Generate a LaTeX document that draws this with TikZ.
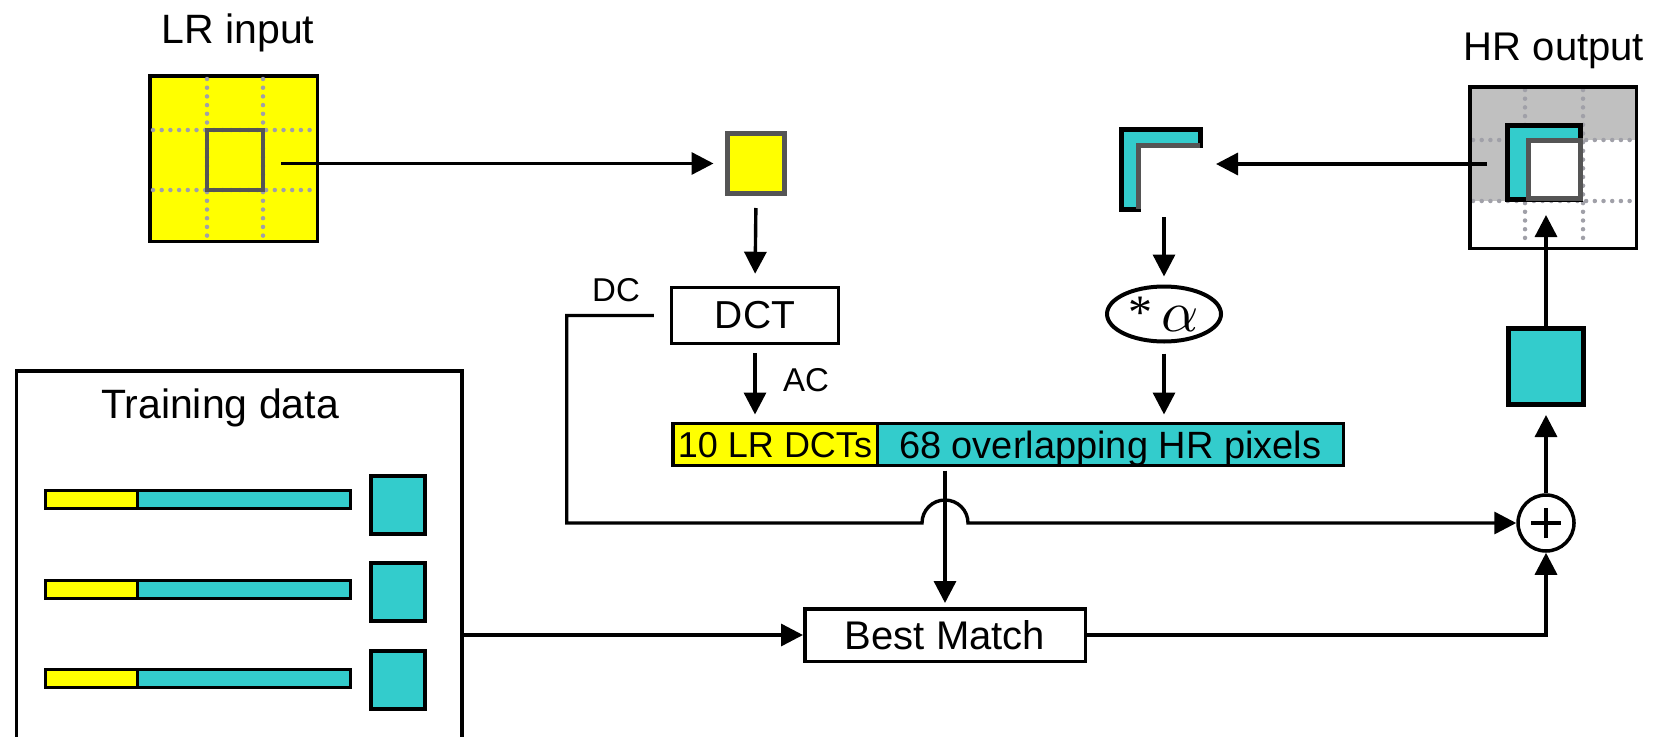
\documentclass[tikz,border=0pt]{standalone}
\usepackage{fontspec}
\setmainfont{Liberation Sans}
\newfontfamily\timesfont{Liberation Serif}
\usepackage{graphicx}
\usepackage{tikz}
\usetikzlibrary{arrows.meta, positioning, calc, shapes.geometric}

\definecolor{lryellow}{RGB}{255,255,0}
\definecolor{hrcyan}{RGB}{51,204,204}
\definecolor{patchgray}{RGB}{85,85,85}
\definecolor{dotgray}{RGB}{160,160,168}
\definecolor{fillgray}{RGB}{192,192,192}

\tikzset{
    fs/.style={font=\fontsize{#1}{#1}\selectfont},
    box/.style={draw=black, line width=3.5pt, fill=white, inner sep=0pt, fs=39},
    cell/.style={draw=black, line width=3.5pt, inner sep=0pt, outer sep=0pt},
    arr/.style={line width=3.4pt, -{Triangle[length=22pt, width=22pt]}},
    gridline/.style={dotgray, line width=4.5pt, dash pattern=on 0pt off 8.7pt, line cap=round},
}

\begin{document}
\begin{tikzpicture}[x=1pt, y=-1pt]
    \useasboundingbox (0,0) rectangle (1661,736);

    % LR input
    \node[fs=41, anchor=base] (lrlabel) at (238,43) {LR input};
    \node[cell, fill=lryellow, minimum width=167.5pt, minimum height=165.5pt] (lrin) at (233.5,158.5) {};
    \foreach \gx in {207,263} \draw[gridline] (\gx,79) -- (\gx,238);
    \foreach \gy in {130,190} \draw[gridline] (153,\gy) -- (318,\gy);
    \node[draw=patchgray, line width=4pt, minimum width=56pt, minimum height=60pt, inner sep=0pt] (lrpatch) at (235,160) {};

    % Patch, DCT and feature vector
    \node[draw=patchgray, line width=5pt, fill=lryellow, minimum width=57pt, minimum height=60pt, inner sep=0pt] (patch) at (756,163.5) {};
    \node[box, minimum width=167pt, minimum height=56pt] (dct) at (755,315.5) {DCT};
    \node[fs=33] (dclabel) at (616,290) {DC};
    \node[fs=33] (aclabel) at (806,380) {AC};
    \node[cell, fill=lryellow, minimum width=204.5pt, minimum height=42pt, text depth=0pt, fs=36] (barlr) at (775,444.5) {10 LR DCTs};
    \node[cell, fill=hrcyan, minimum width=466pt, minimum height=42pt, text depth=0pt, fs=38, anchor=west] (barhr) at (barlr.east) {68 overlapping HR pixels};

    % Overlap region and weight
    \node[inner sep=0pt, outer sep=0pt, minimum width=79pt, minimum height=80pt] (ovl) at (1160.5,169) {};
    \filldraw[fill=hrcyan, line width=5pt] (ovl.south west) |- (ovl.north east) -- ++(0,16) -| ($(ovl.south west)+(17,0)$) -- cycle;
    \draw[patchgray, line width=5pt] ($(ovl.north east)+(0,16)$) -| ($(ovl.south west)+(17,0)$);
    \node[ellipse, draw, line width=4pt, minimum width=114pt, minimum height=55pt, inner sep=0pt] (weight) at (1164,314)
        {\raisebox{3pt}{\timesfont\fontsize{48}{48}\selectfont *}\hspace{9pt}\scalebox{5.8}{$\alpha$}};

    % HR output
    \node[fs=40, anchor=base] (hrlabel) at (1554,60) {HR output};
    \fill[fillgray] (1468,85) rectangle (1638,140);
    \fill[fillgray] (1468,140) rectangle (1525,201);
    \foreach \gx in {1525,1583} \draw[gridline] (\gx,90) -- (\gx,246);
    \foreach \gy in {140,201} \draw[gridline] (1473,\gy) -- (1634,\gy);
    \filldraw[fill=hrcyan, line width=5pt] (1507.5,125.5) rectangle (1580.5,199.5);
    \node[draw=patchgray, fill=white, line width=5pt, minimum width=52pt, minimum height=58pt, inner sep=0pt] (hrpatch) at (1554.5,169.5) {};
    \node[draw, line width=3.5pt, minimum width=166.5pt, minimum height=161.5pt, inner sep=0pt] (hrout) at (1553,167.5) {};
    \node[draw, line width=5pt, fill=hrcyan, minimum width=75pt, minimum height=76pt, inner sep=0pt] (hrsq) at (1546,366.5) {};
    \node[circle, draw, line width=3.5pt, minimum size=56pt, inner sep=0pt] (plus) at (1546,523) {};
    \draw[line width=4.5pt] ([xshift=-15pt]plus.center) -- ([xshift=15pt]plus.center);
    \draw[line width=4.5pt] ([yshift=-15pt]plus.center) -- ([yshift=15pt]plus.center);

    % Training data
    \node[draw, line width=3.5pt, minimum width=445.5pt, minimum height=430pt, inner sep=0pt, anchor=north west] (train) at (14.75,369.25) {};
    \node[fs=41, anchor=base] (trainlabel) at (220,418) {Training data};
    \foreach \by/\sy [count=\i] in {499.5/505, 589/591.5, 678/679.5} {
        \node[cell, line width=3pt, fill=lryellow, minimum width=92pt, minimum height=18pt] (tlr\i) at (91.5,\by) {};
        \node[cell, line width=3pt, fill=hrcyan, minimum width=213pt, minimum height=18pt, anchor=west] (thr\i) at (tlr\i.east) {};
        \node[cell, line width=4pt, fill=hrcyan, minimum width=54pt, minimum height=58pt] (tsq\i) at (398,\sy) {};
    }

    % Best match
    \node[box, minimum width=280.5pt, minimum height=52.5pt, fs=40] (best) at (945,635) {Best Match};
    \coordinate (jump) at (945,523);
    \coordinate (hrtap) at (1487,164);
    \coordinate (hrin) at (1546,215);

    % Connectors
    \draw[arr, shorten <=16pt, shorten >=11.5pt] (lrpatch.east |- patch.west) -- (patch.west);
    \draw[arr, shorten <=12pt, shorten >=12pt] (patch.south) -- (dct.north);
    \draw[arr, shorten <=8pt, shorten >=9pt] (dct.south) -- (dct.south |- barlr.north);
    \draw[arr, shorten <=8pt] ([xshift=-8pt]dct.west) -- ++(-95,0) |- ([xshift=-23pt]jump) arc[start angle=180, end angle=360, radius=23] -- (plus.west);
    \draw[arr, shorten <=5pt, shorten >=4pt] (barhr.south -| jump) -- (best.north);
    \draw[arr] (train.east |- best.west) -- (best.west);
    \draw[arr] (best.east) -| (plus.south);
    \draw[arr, shorten >=8pt] (plus.north) -- (hrsq.south);
    \draw[arr] (hrsq.north) -- (hrin);
    \draw[arr, shorten >=16pt] (hrtap) -- (ovl.east |- hrtap);
    \draw[arr, shorten <=8pt, shorten >=8pt] (weight.north |- ovl.south) -- (weight.north);
    \draw[arr, shorten <=10pt, shorten >=9pt] (weight.south) -- (weight.south |- barhr.north);
\end{tikzpicture}
\end{document}
